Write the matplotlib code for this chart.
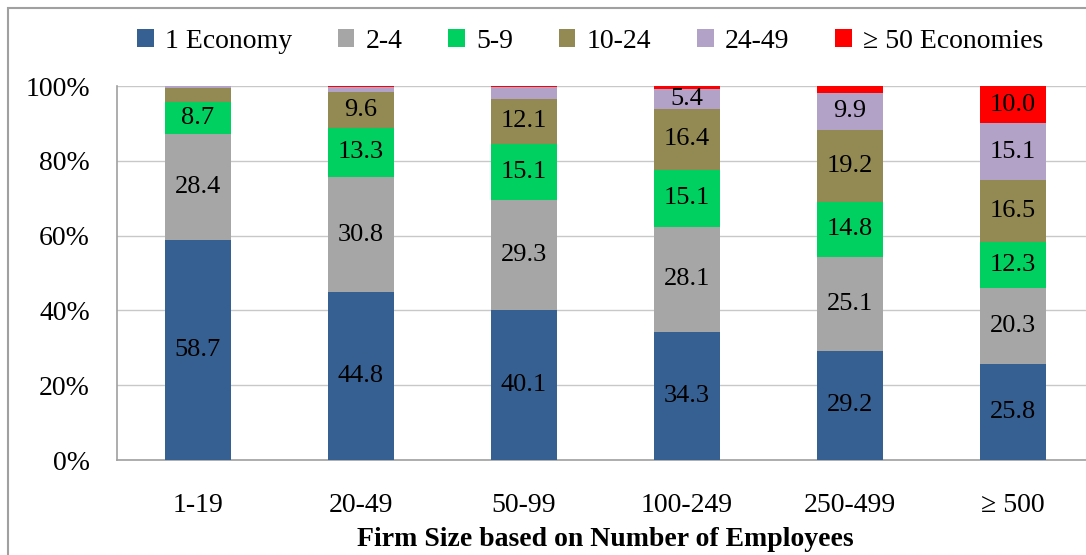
import numpy as np
import matplotlib
matplotlib.use("Agg")
import matplotlib.pyplot as plt
from matplotlib.patches import Rectangle

plt.rcParams['font.family'] = ['Liberation Serif', 'DejaVu Serif']

firm_sizes = ['1-19', '20-49', '50-99', '100-249', '250-499', '\u2265 500']
series_names = ['1 Economy', '2-4', '5-9', '10-24', '24-49', '\u2265 50 Economies']
colors = ['#376092', '#A6A6A6', '#00D060', '#938953', '#B3A2C7', '#FF0000']

one_economy = [58.7, 44.8, 40.1, 34.3, 29.2, 25.8]
econ_2_4 = [28.4, 30.8, 29.3, 28.1, 25.1, 20.3]
econ_5_9 = [8.7, 13.3, 15.1, 15.1, 14.8, 12.3]
econ_10_24 = [3.7, 9.6, 12.1, 16.4, 19.2, 16.5]
econ_24_49 = [0.4, 1.3, 3.1, 5.4, 9.9, 15.1]
econ_50_plus = [0.1, 0.2, 0.3, 0.7, 1.8, 10.0]

all_series = [one_economy, econ_2_4, econ_5_9, econ_10_24, econ_24_49, econ_50_plus]

fig = plt.figure(figsize=(10.86, 5.55), dpi=100)
# axes: left edge at x=116, top at 100% y=86, bottom at y=460 (px)
ax = fig.add_axes([116.5 / 1086, 95 / 555, 978 / 1086, 374 / 555])

x = np.arange(len(firm_sizes))
bottom = np.zeros(len(firm_sizes))
handles = []
for vals, name, c in zip(all_series, series_names, colors):
    vals = np.array(vals)
    b = ax.bar(x, vals, bottom=bottom, width=0.4, color=c, label=name, zorder=3)
    handles.append(b)
    for xi, v, bt in zip(x, vals, bottom):
        if v >= 5:
            ax.text(xi, bt + v / 2, f'{v:.1f}', ha='center', va='center',
                    fontsize=19, color='black', zorder=4)
    bottom += vals

ax.set_xlim(-0.5, 5.5)
ax.set_ylim(0, 100)
ax.set_yticks(np.arange(0, 101, 20))
ax.set_yticklabels([f'{v}%' for v in range(0, 101, 20)])
ax.set_xticks(x)
ax.set_xticklabels(firm_sizes)
ax.tick_params(axis='y', length=0, pad=19, labelsize=20)
ax.tick_params(axis='x', length=0, pad=24, labelsize=20)
ax.yaxis.grid(True, color='#C8C8C8', linewidth=1.0, zorder=0)
ax.set_axisbelow(True)
for s in ['top', 'right']:
    ax.spines[s].set_visible(False)
for s in ['left', 'bottom']:
    ax.spines[s].set_color('#A0A0A0')
    ax.spines[s].set_linewidth(1.2)
ax.set_xlabel('Firm Size based on Number of Employees', fontsize=20,
              fontweight='bold', labelpad=6)

fig.legend(handles=handles, labels=series_names, loc='center',
           bbox_to_anchor=(590 / 1086, 1 - 41 / 555), ncol=6, frameon=False,
           fontsize=20, handlelength=0.6, handleheight=0.6, handletextpad=0.4,
           columnspacing=1.65)

# outer chart frame
fig.patches.append(Rectangle((8 / 1086, -0.1), 1.2, 1 - 8 / 555 + 0.1,
                             transform=fig.transFigure, fill=False,
                             edgecolor='#A0A0A0', linewidth=1.5))

fig.savefig('out.png', dpi=100)
